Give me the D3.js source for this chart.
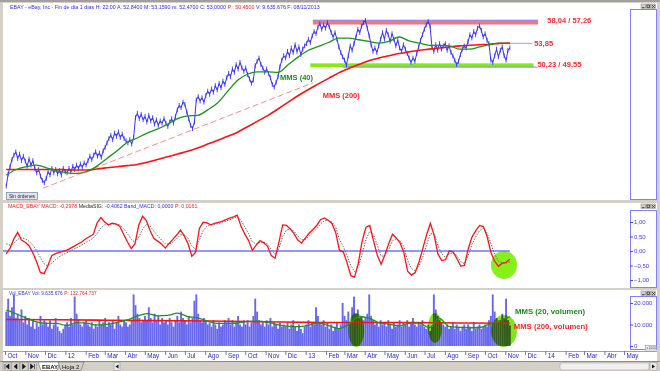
<!DOCTYPE html>
<html>
<head>
<meta charset="utf-8">
<script src="https://cdn.jsdelivr.net/npm/d3@7"></script>
<style>
  body { margin: 0; background: #d4d0c8; }
  svg { display: block; font-family: "Liberation Sans", Arial, sans-serif; }
  .blend { mix-blend-mode: multiply; }
</style>
</head>
<body>
<svg id="chart" width="660" height="371"></svg>
<script>
// ---- data ----
const firstDay = new Date(2011, 9, 3);
const lastDay = new Date(2013, 10, 8);

// closes, one every 2 sessions, month by month
const priceClose = [
  28.0, 30.2, 31.5, 32.8, 33.6, 34.2, 33.0, 33.8, 32.6, 33.4, 32.5,
  31.6, 32.9, 31.8, 32.6, 31.2, 30.4, 31.0, 29.8, 29.0, 28.6,
  29.4, 30.6, 30.0, 31.2, 30.4, 31.0, 30.2, 30.8, 30.0, 31.2, 30.6,
  30.4, 31.2, 30.6, 31.6, 31.0, 31.8, 31.2, 32.0, 31.4, 32.2,
  31.8, 32.6, 33.4, 32.8, 33.6, 34.2, 33.4, 34.0, 33.2, 34.4,
  35.0, 35.8, 36.6, 37.2, 36.4, 37.6, 37.0, 37.8, 36.8, 37.4, 36.6,
  36.2, 35.8, 36.4, 35.6, 36.8, 40.4, 41.2, 40.2, 41.0, 40.0,
  40.6, 39.6, 40.8, 39.8, 40.4, 39.2, 40.0, 39.0, 39.8, 39.4, 40.2,
  39.4, 38.8, 39.6, 40.2, 39.4, 40.6, 41.8, 42.6, 42.2, 43.2,
  42.8, 41.4, 40.2, 39.0, 38.4, 39.6, 43.6, 44.2, 43.4, 44.0, 43.2,
  44.4, 45.2, 44.6, 45.6, 45.0, 46.2, 45.4, 46.6, 45.8, 47.0, 46.4,
  47.6, 48.4, 47.8, 49.2, 48.6, 50.0, 49.2, 50.4, 49.4, 48.8,
  49.4, 48.2, 47.4, 46.6, 47.2, 49.8, 50.6, 51.2, 50.0, 49.4, 48.6,
  49.2, 48.4, 47.6, 46.4, 45.9, 46.8, 47.8, 49.6, 50.8, 51.6,
  51.2, 52.4, 51.6, 53.0, 52.2, 53.6, 52.4, 53.2, 51.8, 52.8, 53.4,
  53.8, 54.6, 54.0, 55.2, 56.0, 55.6, 56.8, 57.4, 56.4, 57.2,
  56.6, 57.6, 56.8, 55.8, 55.0, 55.8, 54.6, 53.2, 52.2, 51.4,
  50.8, 49.9, 51.6, 53.4, 52.6, 53.8, 55.0, 56.4, 55.8, 57.0, 57.6,
  58.0, 56.6, 55.2, 53.6, 52.4, 53.0, 52.2, 53.4, 54.6, 55.8,
  54.6, 56.2, 55.4, 54.2, 55.6, 54.6, 53.4, 54.4, 53.0, 52.4, 53.6,
  52.8, 52.0, 51.2, 50.4, 51.2, 50.6, 52.0, 53.2, 54.4, 55.4,
  56.4, 57.2, 57.8, 57.0, 53.2, 52.4, 53.6, 52.6, 53.8, 52.8, 53.4,
  53.8, 52.6, 53.4, 52.2, 51.6, 50.8, 50.0, 50.6, 51.8, 52.8, 53.4,
  53.0, 54.2, 55.4, 54.8, 56.0, 55.4, 56.6, 57.0, 56.2, 55.0,
  55.6, 54.4, 53.8, 50.8, 50.4, 51.6, 52.8, 51.4, 52.6, 53.2, 51.6,
  50.8, 52.6, 53.0
];

// volume in millions, same sessions as priceClose
const volumeM = [
  16, 22, 14, 18, 24, 13, 15, 12, 17, 11, 14,
  10, 13, 9, 12, 8, 11, 9, 14, 10, 12,
  11, 9, 12, 8, 10, 13, 9, 7, 6, 8, 10,
  11, 9, 13, 10, 23, 15, 12, 10, 9, 11,
  12, 10, 9, 11, 8, 10, 9, 12, 10, 11,
  13, 9, 11, 10, 12, 8, 11, 14, 10, 9, 12,
  11, 9, 10, 12, 24, 19, 15, 13, 11, 12,
  14, 12, 18, 13, 11, 15, 12, 14, 10, 13, 11,
  12, 10, 13, 11, 9, 12, 14, 11, 16, 13,
  12, 10, 14, 11, 13, 21, 24, 15, 12, 11, 13,
  12, 10, 11, 9, 12, 10, 8, 11, 9, 10, 12,
  11, 13, 10, 12, 9, 11, 14, 10, 9, 12,
  10, 12, 9, 11, 14, 22, 16, 12, 10, 11, 9,
  12, 10, 13, 9, 11, 10, 8, 11, 9, 10,
  9, 11, 8, 10, 12, 9, 7, 10, 8, 6, 9,
  10, 12, 9, 11, 10, 18, 14, 11, 10, 12,
  9, 11, 8, 10, 7, 9, 11, 8, 10, 20,
  14, 12, 16, 11, 18, 23, 15, 17, 13, 14, 12,
  13, 15, 24, 14, 12, 10, 11, 9, 12, 10,
  11, 9, 12, 10, 8, 11, 9, 10, 12, 9, 11,
  10, 12, 9, 11, 13, 10, 9, 11, 10, 12,
  9, 8, 10, 7, 9, 24, 17, 14, 12, 11, 10,
  9, 10, 8, 9, 11, 8, 10, 9, 7, 9, 10,
  8, 10, 9, 7, 11, 8, 9, 10, 8, 9,
  10, 9, 12, 14, 24, 16, 13, 11, 12, 15, 13,
  22, 12, 9.6
];

const mms40 = [
  30.0, 31.0, 31.5, 31.8, 31.3, 30.8, 30.4, 30.3, 30.6, 31.6,
  33.0, 34.4, 35.9, 36.7, 37.6, 38.3, 39.2, 40.2, 40.7, 40.8,
  41.8, 43.1, 45.2, 47.2, 48.3, 48.7, 48.7, 48.6, 50.0, 51.4,
  52.6, 53.3, 54.0, 54.8, 54.8, 54.5, 54.2, 53.9, 54.2, 55.0,
  54.3, 53.9, 53.5, 53.5, 53.4, 52.8, 52.8, 53.2, 53.6, 53.9, 53.8
];

const mms200 = [
  31.0, 31.0, 31.0, 31.0, 31.0, 31.0, 30.95, 30.9, 30.9, 31.1,
  31.3, 31.5, 31.7, 31.9, 32.3, 32.8, 33.3, 33.8, 34.3, 34.9,
  35.6, 36.3, 37.0, 37.8, 38.8, 39.8, 40.8, 42.0, 43.2, 44.4,
  45.5, 46.5, 47.5, 48.5, 49.3, 50.0, 50.7, 51.2, 51.6, 52.0,
  52.3, 52.6, 52.8, 53.0, 53.2, 53.4, 53.5, 53.6, 53.7, 53.85, 53.9
];

const macdLine = [
  -0.10, 0.10, 0.42, 0.64, 0.38, 0.30, 0.18, -0.06, -0.37, -0.74,
  -0.78, -0.50, -0.16, -0.09, -0.05, -0.01, 0.03, 0.10, 0.17, 0.25,
  0.32, 0.42, 0.50, 0.58, 0.97, 1.15, 1.00, 0.90, 0.96, 0.93,
  0.85, 0.58, 0.32, 0.08, 0.25, 0.90, 1.20, 1.05, 0.70, 0.43,
  0.34, 0.24, 0.10, 0.26, 0.40, 0.55, 0.72, 0.52, 0.25, -0.18,
  -0.05, 0.78, 0.99, 0.97, 0.90, 0.95, 0.99, 1.02, 1.08, 1.13,
  1.18, 1.24, 0.85, 0.58, 0.36, 0.02, 0.20, 0.36, 0.28, 0.16,
  -0.16, -0.25, 0.30, 0.90, 0.88, 0.76, 0.60, 0.38, 0.27, 0.45,
  0.61, 0.74, 0.88, 1.08, 1.14, 1.06, 0.95, 0.64, 0.02, -0.03,
  -0.40, -0.85, -0.90, -0.40, 0.35, 0.82, 0.88, 0.35, -0.15, -0.46,
  -0.13, 0.25, 0.58, 0.45, 0.28, -0.05, -0.70, -0.83, -0.74, -0.38,
  0.08, 0.55, 0.95, 0.55, -0.10, -0.33, -0.30, 0.00, -0.03, -0.26,
  -0.52, -0.50, 0.07, 0.48, 0.70, 0.88, 0.84, 0.50, -0.05, -0.35,
  -0.53, -0.42, -0.40, -0.28
];

const macdSignal = [
  0.25, 0.20, 0.26, 0.40, 0.46, 0.42, 0.34, 0.20, 0.02, -0.22,
  -0.44, -0.52, -0.42, -0.30, -0.20, -0.12, -0.06, 0.00, 0.07, 0.14,
  0.21, 0.29, 0.37, 0.45, 0.60, 0.80, 0.90, 0.92, 0.93, 0.93,
  0.90, 0.78, 0.60, 0.40, 0.30, 0.48, 0.75, 0.92, 0.86, 0.68,
  0.52, 0.38, 0.25, 0.24, 0.31, 0.42, 0.56, 0.56, 0.44, 0.18,
  0.05, 0.38, 0.70, 0.86, 0.90, 0.92, 0.95, 0.99, 1.03, 1.08,
  1.13, 1.19, 1.05, 0.83, 0.60, 0.32, 0.24, 0.30, 0.30, 0.24,
  0.05, -0.12, 0.08, 0.50, 0.72, 0.76, 0.68, 0.52, 0.38, 0.40,
  0.51, 0.64, 0.77, 0.93, 1.04, 1.06, 1.00, 0.82, 0.40, 0.15,
  -0.15, -0.50, -0.72, -0.55, -0.10, 0.40, 0.68, 0.55, 0.20, -0.18,
  -0.16, 0.06, 0.35, 0.42, 0.35, 0.15, -0.32, -0.60, -0.68, -0.52,
  -0.20, 0.20, 0.60, 0.58, 0.20, -0.10, -0.22, -0.10, -0.06, -0.16,
  -0.36, -0.44, -0.15, 0.22, 0.48, 0.70, 0.78, 0.62, 0.25, -0.10,
  -0.35, -0.40, -0.41, -0.38
];

const volMms20 = [
  16.7, 15.0, 12.9, 11.2, 10.5, 10.5, 9.5, 10.9, 10.6, 9.8,
  10.1, 10.9, 12.1, 13.9, 15.1, 14.0, 14.2, 15.3, 13.7, 13.1,
  11.6, 10.5, 10.5, 10.7, 11.5, 11.6, 11.0, 9.8, 9.1, 9.0,
  9.6, 10.8, 9.5, 8.1, 10.0, 13.6, 13.0, 10.8, 10.2, 9.3,
  10.5, 10.6, 8.5, 12.8, 9.0, 8.7, 8.5, 8.6, 10.2, 11.8, 13.6
];
const volMms200 = [12.3, 12.2, 12.0, 11.8, 11.6, 11.3, 11.0, 10.9, 10.9, 10.7, 10.6];

// support trend line (two lows) and horizontal levels
const trendDates = [new Date(2011, 10, 28), new Date(2013, 0, 12)];
const trendValues = [27.6, 46.7];
const resistance = [58.04, 57.26];
const pivot = 53.85;
const support = [50.23, 49.55];

const monthNames = ["Ene", "Feb", "Mar", "Abr", "May", "Jun", "Jul", "Ago", "Sep", "Oct", "Nov", "Dic"];
const priceTicks = [30, 35, 40, 45, 50, 55, 60];
const macdTicks = [-1, -0.5, 0, 0.5, 1];
const volTicks = [0, 10, 20];

// ---- helpers ----
const spread = arr => arr.map((v, i) => ({
  date: new Date(+firstDay + (lastDay - firstDay) * i / (arr.length - 1)),
  value: v
}));
const es = d3.formatLocale({decimal: ",", thousands: ".", grouping: [3], currency: ["", " €"]});
const fmt2 = es.format(".2f");
const fmtK = es.format(",.0f");

const svg = d3.select("#chart");
const W = 660, H = 371;
const plotLeft = 3, plotRight = 630;

const x = d3.scaleTime()
            .domain([new Date(2011, 8, 28), new Date(2014, 4, 10)])
            .range([plotLeft, plotRight]);
const yP = d3.scaleLinear().domain([30, 55]).range([175, 37]);
const yM = d3.scaleLinear().domain([-1, 1]).range([280, 222]);
const yV = d3.scaleLinear().domain([0, 20]).range([346, 303]);

const defs = svg.append("defs");
defs.append("clipPath").attr("id", "clipP").append("rect")
    .attr("x", plotLeft).attr("y", 9).attr("width", plotRight - plotLeft).attr("height", 191);
defs.append("clipPath").attr("id", "clipAxP").append("rect")
    .attr("x", 628).attr("y", 9).attr("width", 30).attr("height", 191);

// header line made of coloured pieces, scaled to a target width
function headerLine(x0, y0, target, parts) {
  const g = svg.append("g");
  const nodes = parts.map(p => g.append("text").attr("y", y0).attr("font-size", 10).attr("fill", p[1]).text(p[0]));
  const gap = 3;
  const total = d3.sum(nodes, n => n.node().getComputedTextLength()) + gap * (nodes.length - 1);
  const fs = 10 * target / total;
  let cx = x0;
  nodes.forEach(n => {
    n.attr("font-size", fs).attr("x", cx);
    cx += n.node().getComputedTextLength() + gap * fs / 10;
  });
}

// ---- window chrome ----
svg.append("rect").attr("width", W).attr("height", H).attr("fill", "#d4d0c8");
svg.append("rect").attr("width", W).attr("height", 2).attr("fill", "#a0a0a0");

const panelBoxes = [[3, 200], [203, 288], [290, 351]];
panelBoxes.forEach(p => {
  svg.append("rect").attr("x", 3).attr("y", p[0]).attr("width", 654).attr("height", p[1] - p[0])
     .attr("fill", "#fff");
});
const axisBoxes = [[9, 200], [210, 288], [296, 350]];
axisBoxes.forEach(b => {
  svg.append("rect").attr("x", 630.5).attr("y", b[0] + 0.5).attr("width", 26).attr("height", b[1] - b[0] - 1)
     .attr("fill", "#fff").attr("stroke", "#8080ff");
});

// little window buttons (_ [] x)
[4, 204, 291].forEach(top => {
  const g = svg.append("g").attr("transform", "translate(641," + top + ")");
  [0, 5, 10].forEach(dx => {
    g.append("rect").attr("x", dx).attr("y", 0).attr("width", 4.5).attr("height", 4.5)
     .attr("fill", "#d4d0c8").attr("stroke", "#808080").attr("stroke-width", 0.5);
  });
  g.append("path").attr("d", "M1,3.5H3.5 M6,1H8.5V3.5H6Z M11,1L14,4 M14,1L11,4")
   .attr("stroke", "#222").attr("stroke-width", 0.7).attr("fill", "none");
});

// ---- main price panel ----
headerLine(10, 8.5, 310, [
  ["EBAY - eBay, Inc - Fin de día 1 días H: 22:00 A: 52,8400 M: 53,1590 m: 52,4700 C: 53,0000", "#2a2aff"],
  ["P : 50,4500", "#ff2020"],
  ["V: 9.635.676 F: 08/11/2013", "#2a2aff"]
]);

const pg = svg.append("g").attr("clip-path", "url(#clipP)");

// horizontal levels
pg.append("rect")
  .attr("x", x(new Date(2013, 0, 12))).attr("y", yP(resistance[0]))
  .attr("width", x(new Date(2013, 11, 21)) - x(new Date(2013, 0, 12)))
  .attr("height", yP(resistance[1]) - yP(resistance[0]))
  .attr("fill", "#f27878");
pg.append("line")
  .attr("x1", x(new Date(2013, 0, 12))).attr("x2", x(new Date(2013, 11, 21)))
  .attr("y1", yP(resistance[0])).attr("y2", yP(resistance[0]))
  .attr("stroke", "#8a7cff").attr("stroke-width", 1);
pg.append("line")
  .attr("x1", x(new Date(2013, 9, 29))).attr("x2", x(new Date(2013, 11, 12)))
  .attr("y1", yP(pivot)).attr("y2", yP(pivot))
  .attr("stroke", "#9a9aff").attr("stroke-width", 1);
pg.append("rect")
  .attr("x", x(new Date(2013, 0, 8))).attr("y", yP(support[0]))
  .attr("width", x(new Date(2013, 11, 14)) - x(new Date(2013, 0, 8)))
  .attr("height", yP(support[1]) - yP(support[0]))
  .attr("fill", "#84ec10");
pg.append("line")
  .attr("x1", x(new Date(2013, 1, 26))).attr("x2", x(new Date(2013, 11, 20)))
  .attr("y1", yP(support[1])).attr("y2", yP(support[1]))
  .attr("stroke", "#8080ff").attr("stroke-width", 1);

// dashed trend line
pg.append("line")
  .attr("x1", x(trendDates[0])).attr("y1", yP(trendValues[0]))
  .attr("x2", x(trendDates[1])).attr("y2", yP(trendValues[1]))
  .attr("stroke", "#ff8c8c").attr("stroke-width", 1).attr("stroke-dasharray", "6,3");

const priceData = spread(priceClose);
const lineP = d3.line().x(d => x(d.date)).y(d => yP(d.value));
pg.append("path").datum(priceData).attr("d", lineP)
  .attr("fill", "none").attr("stroke", "#3434ff").attr("stroke-width", 1);
pg.append("g").selectAll("line").data(priceData).enter().append("line")
  .attr("x1", d => x(d.date)).attr("x2", d => x(d.date))
  .attr("y1", d => yP(d.value) - 2.4).attr("y2", d => yP(d.value) + 2.4)
  .attr("stroke", "#3434ff").attr("stroke-width", 0.9);

pg.append("path").datum(spread(mms200)).attr("d", lineP.curve(d3.curveMonotoneX))
  .attr("fill", "none").attr("stroke", "#ff1010").attr("stroke-width", 1.6);
pg.append("path").datum(spread(mms40)).attr("d", lineP.curve(d3.curveMonotoneX))
  .attr("fill", "none").attr("stroke", "#1e931e").attr("stroke-width", 1.3);

const bold = (g, text, px, py, color, len) => g.append("text")
  .attr("x", px).attr("y", py).attr("fill", color)
  .attr("font-size", 7.5).attr("font-weight", "bold")
  .attr("textLength", len).attr("lengthAdjust", "spacingAndGlyphs").text(text);

bold(svg, "58,04 / 57,26", x(new Date(2014, 0, 4)), yP(resistance[1]) - 1.2, "#ff2a2a", 44);
bold(svg, "53,85", x(new Date(2013, 11, 15)), yP(pivot) + 2.4, "#ff2a2a", 19);
bold(svg, "50,23 / 49,55", x(new Date(2013, 11, 20)), yP(support[1]) - 0.2, "#ff2a2a", 44);
bold(svg, "MMS (40)", x(new Date(2012, 10, 23)), yP(47.2), "#1e8a1e", 33);
bold(svg, "MMS (200)", x(new Date(2013, 0, 27)), yP(43.9), "#ff2020", 37);

// price axis
const axP = svg.append("g").attr("transform", "translate(630,0)").attr("clip-path", "url(#clipAxP)")
               .call(d3.axisRight(yP).tickValues(priceTicks).tickSize(3).tickPadding(1).tickFormat(fmt2));

// "Sin órdenes" button
svg.append("rect").attr("x", 6.5).attr("y", 192.5).attr("width", 31).attr("height", 7)
   .attr("fill", "#e4e4ee").attr("stroke", "#7080a0").attr("stroke-width", 0.7);
svg.append("text").attr("x", 9).attr("y", 198).attr("font-size", 4.8).attr("fill", "#223")
   .attr("textLength", 26).text("Sin órdenes");

// ---- MACD panel ----
headerLine(8, 208.3, 190, [
  ["MACD_EBAY MACD: -0,2978", "#ff2020"],
  ["MediaSIG:", "#222"],
  ["-0,4062 Band_MACD: 0,0000", "#3030ff"],
  ["P: 0,0161", "#ff2020"]
]);

const lineM = d3.line().x(d => x(d.date)).y(d => yM(d.value));
svg.append("ellipse").attr("cx", x(new Date(2013, 9, 30))).attr("cy", yM(-0.48))
   .attr("rx", 13).attr("ry", 14).attr("fill", "#86f01a");
svg.append("line").attr("x1", plotLeft).attr("x2", x(lastDay))
   .attr("y1", yM(0)).attr("y2", yM(0)).attr("stroke", "#7272ff").attr("stroke-width", 1.5);
svg.append("path").datum(spread(macdSignal)).attr("d", lineM)
   .attr("fill", "none").attr("stroke", "#666").attr("stroke-width", 1).attr("stroke-dasharray", "1.4,1.4");
svg.append("path").datum(spread(macdLine)).attr("d", lineM)
   .attr("fill", "none").attr("stroke", "#ff1212").attr("stroke-width", 1.3);

const axM = svg.append("g").attr("transform", "translate(630,0)")
               .call(d3.axisRight(yM).tickValues(macdTicks).tickSize(3).tickPadding(1).tickFormat(fmt2));

// ---- volume panel ----
headerLine(9, 295.3, 88, [
  ["Vol_EBAY Vol: 9.635.676", "#3030ff"],
  ["P: 132.764.737", "#ff2020"]
]);

const volData = spread(volumeM);
const step = x(volData[1].date) - x(volData[0].date);
svg.append("g").selectAll("rect").data(volData).enter().append("rect")
   .attr("x", d => x(d.date) - step * 0.5).attr("width", step)
   .attr("y", d => yV(d.value)).attr("height", d => yV(0) - yV(d.value))
   .attr("fill", "#6868ef");

const blobs = [[new Date(2013, 2, 19), 7.4, 8, 17], [new Date(2013, 6, 17), 8.4, 7, 15], [new Date(2013, 9, 30), 7.0, 13, 16]];
svg.append("g").selectAll("ellipse").data(blobs).enter().append("ellipse")
   .attr("class", "blend")
   .attr("cx", d => x(d[0])).attr("cy", d => yV(d[1])).attr("rx", d => d[2]).attr("ry", d => d[3])
   .attr("fill", "#80e41e");

const lineV = d3.line().x(d => x(d.date)).y(d => yV(d.value)).curve(d3.curveMonotoneX);
svg.append("path").datum(spread(volMms200)).attr("d", lineV)
   .attr("fill", "none").attr("stroke", "#ff1010").attr("stroke-width", 1.6);
svg.append("path").datum(spread(volMms20)).attr("d", lineV)
   .attr("fill", "none").attr("stroke", "#1e931e").attr("stroke-width", 1.3);

bold(svg, "MMS (20, volumen)", x(new Date(2013, 10, 16)), yV(14.7), "#1e8a1e", 70);
bold(svg, "MMS (200, volumen)", x(new Date(2013, 10, 14)), yV(7.9), "#ff2020", 74);

const axV = svg.append("g").attr("transform", "translate(630,0)")
               .call(d3.axisRight(yV).tickValues(volTicks).tickSize(3).tickPadding(1)
               .tickFormat(d => fmtK(d * 1000)));
svg.append("rect").attr("x", 645.5).attr("y", 345.5).attr("width", 11).attr("height", 4.5)
   .attr("fill", "#fff").attr("stroke", "#7070b0").attr("stroke-width", 0.5);
svg.append("text").attr("x", 646.5).attr("y", 349.2).attr("font-size", 3.6).attr("fill", "#333").text("x1000");

[axP, axM, axV].forEach(a => {
  a.select(".domain").remove();
  a.selectAll(".tick line").attr("stroke", "#4848ff");
  a.selectAll(".tick text").attr("fill", "#3a3aff").attr("font-size", 6)
   .attr("font-family", "Liberation Sans, Arial, sans-serif");
});

// ---- time axis ----
svg.append("rect").attr("x", 3).attr("y", 351).attr("width", 654).attr("height", 10).attr("fill", "#fff");
svg.append("line").attr("x1", 3).attr("x2", 657).attr("y1", 351.5).attr("y2", 351.5).attr("stroke", "#a0a0a0");
const months = d3.timeMonth.range(new Date(2011, 9, 1), new Date(2014, 4, 2));
const axX = svg.append("g").attr("transform", "translate(0,351)")
  .call(d3.axisBottom(x).tickValues(months).tickSize(4)
  .tickFormat(d => d.getMonth() === 0 ? d3.timeFormat("%y")(d) : monthNames[d.getMonth()]));
axX.select(".domain").remove();
axX.selectAll(".tick line").attr("stroke", "#7070c8");
axX.selectAll(".tick text").attr("text-anchor", "start").attr("x", 2).attr("y", 3)
   .attr("fill", "#2828c8").attr("font-size", 6.3)
   .attr("font-family", "Liberation Sans, Arial, sans-serif");

// ---- sheet tabs ----
svg.append("rect").attr("x", 0).attr("y", 361).attr("width", W).attr("height", 10).attr("fill", "#d4d0c8");
svg.append("line").attr("x1", 0).attr("x2", W).attr("y1", 361.5).attr("y2", 361.5).attr("stroke", "#888");
const navIcons = ["M2,1.5V6.5 M6,1.5L3,4L6,6.5Z", "M5.5,1.5L2.5,4L5.5,6.5Z", "M2.5,1.5L5.5,4L2.5,6.5Z", "M2,1.5L5,4L2,6.5Z M6,1.5V6.5"];
navIcons.forEach((d, i) => {
  const g = svg.append("g").attr("transform", "translate(" + (3 + i * 8.5) + ",362.5)");
  g.append("rect").attr("width", 8).attr("height", 8).attr("fill", "#d4d0c8")
   .attr("stroke", "#909090").attr("stroke-width", 0.5);
  g.append("path").attr("d", d).attr("fill", "#111").attr("stroke", "#111").attr("stroke-width", 0.6);
});
svg.append("path").attr("d", "M38,362H60L57,370.5H41Z").attr("fill", "#fff").attr("stroke", "#666").attr("stroke-width", 0.6);
svg.append("text").attr("x", 42).attr("y", 368.8).attr("font-size", 6).attr("font-weight", "bold").attr("fill", "#111").text("EBAY");
svg.append("path").attr("d", "M58,362H84L81,370.5H61Z").attr("fill", "#d4d0c8").attr("stroke", "#666").attr("stroke-width", 0.6);
svg.append("text").attr("x", 62).attr("y", 368.8).attr("font-size", 6).attr("fill", "#111").text("Hoja 2");
svg.append("rect").attr("x", 114).attr("y", 362.5).attr("width", 6).attr("height", 8).attr("fill", "#e8e8e8")
   .attr("stroke", "#909090").attr("stroke-width", 0.5);
svg.append("path").attr("d", "M118.5,364.5L115.5,366.5L118.5,368.5Z").attr("fill", "#111");
svg.append("rect").attr("x", 560).attr("y", 363).attr("width", 89).attr("height", 7).attr("rx", 2)
   .attr("fill", "#f0f0f0").attr("stroke", "#a0a0a0").attr("stroke-width", 0.5);
svg.append("rect").attr("x", 650).attr("y", 362.5).attr("width", 7).attr("height", 8).attr("fill", "#e8e8e8")
   .attr("stroke", "#909090").attr("stroke-width", 0.5);
svg.append("path").attr("d", "M652,364.5L655,366.5L652,368.5Z").attr("fill", "#111");
</script>
</body>
</html>
